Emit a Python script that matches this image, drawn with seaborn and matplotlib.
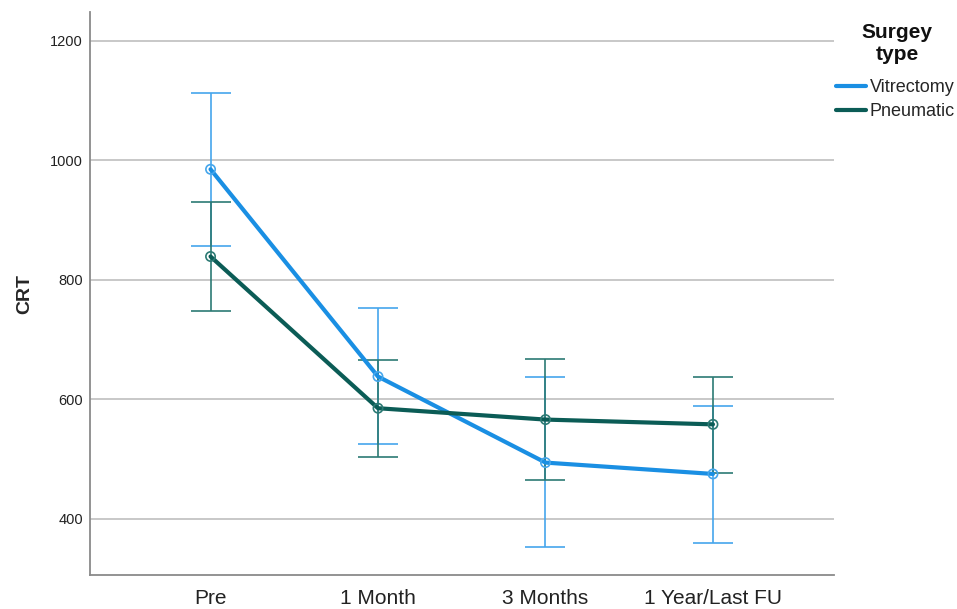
import numpy as np
import matplotlib
matplotlib.use("Agg")
import matplotlib.pyplot as plt
import seaborn as sns
import pandas as pd

sns.set_style("white")
plt.rcParams["font.family"] = ["Liberation Sans", "DejaVu Sans"]

# data
timepoints = ["Pre", "1 Month", "3 Months", "1 Year/Last FU"]
vit_mean = [985, 638, 494, 475]
vit_low = [857, 525, 353, 359]
vit_high = [1113, 752, 637, 589]
pne_mean = [839, 585, 566, 558]
pne_low = [748, 504, 465, 476]
pne_high = [930, 665, 667, 638]

groups = ["Vitrectomy", "Pneumatic"]
line_cols = {"Vitrectomy": "#1a8fe3", "Pneumatic": "#0b5c56"}
err_cols = {"Vitrectomy": "#45a6ec", "Pneumatic": "#2c7a74"}

df = pd.DataFrame({
    "time": list(range(len(timepoints))) * 2,
    "CRT": vit_mean + pne_mean,
    "low": vit_low + pne_low,
    "high": vit_high + pne_high,
    "group": ["Vitrectomy"] * 4 + ["Pneumatic"] * 4,
})

fig = plt.figure(figsize=(9.57, 6.09), dpi=100)
ax = fig.add_axes([0.094, 0.056, 0.777, 0.924])

for g in groups:
    d = df[df["group"] == g]
    yerr = [d["CRT"] - d["low"], d["high"] - d["CRT"]]
    ax.errorbar(d["time"], d["CRT"], yerr=yerr, fmt="none",
                ecolor=err_cols[g], elinewidth=1.2, capsize=14.5,
                capthick=1.2, zorder=2)

sns.lineplot(data=df, x="time", y="CRT", hue="group", hue_order=groups,
             palette=line_cols, linewidth=3, ax=ax, zorder=3, legend=False)

for g in groups:
    d = df[df["group"] == g]
    ax.scatter(d["time"], d["CRT"], s=45, facecolors="none",
               edgecolors=err_cols[g], linewidths=1.2, zorder=4)

ax.set_xlim(-0.72, 3.72)
ax.set_ylim(306, 1248)
ax.set_yticks([400, 600, 800, 1000, 1200])
ax.set_xticks(range(len(timepoints)))
ax.set_xticklabels(timepoints)
ax.tick_params(axis="x", labelsize=15, length=0, pad=10, colors="#222222")
ax.tick_params(axis="y", labelsize=10.5, length=0, pad=5, colors="#222222")
ax.set_xlabel("")
ax.set_ylabel("CRT", fontsize=14, fontweight="bold", labelpad=12)
ax.yaxis.grid(True, color="#c4c4c4", linewidth=1.3)
ax.set_axisbelow(True)
for s in ["top", "right"]:
    ax.spines[s].set_visible(False)
for s in ["left", "bottom"]:
    ax.spines[s].set_color("#8a8a8a")
    ax.spines[s].set_linewidth(1.3)

# legend title drawn separately so its gap to the entries matches
fig.text(897 / 957, 1 - 44 / 609, "Surgey\ntype", ha="center", va="center",
         fontsize=15, fontweight="bold", linespacing=1.2, color="#111111")
handles = [plt.Line2D([], [], color=line_cols[g], linewidth=3) for g in groups]
fig.legend(handles, groups, loc="upper left", bbox_to_anchor=(0.874, 1 - 79 / 609),
           frameon=False, fontsize=13, handlelength=1.65, handletextpad=0.2,
           labelspacing=0.38, borderpad=0, borderaxespad=0)

fig.savefig("out.png", dpi=100)
